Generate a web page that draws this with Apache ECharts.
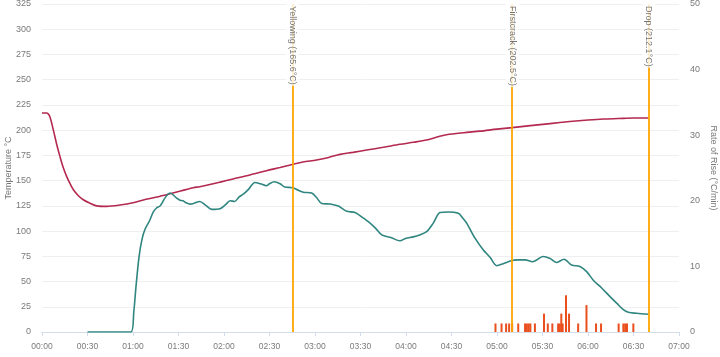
<!DOCTYPE html>
<html>
<head>
<meta charset="utf-8">
<script src="https://cdn.jsdelivr.net/npm/echarts@6/dist/echarts.min.js"></script>
<style>
html,body{margin:0;padding:0;background:#fff;}
#chart{width:720px;height:357px;}
</style>
</head>
<body>
<div id="chart"></div>
<script>
// Time in seconds
const tempTimes = [0,3,5,7.5,10,12,14,16.3,18.5,20.7,24,27.2,31,36,42.7,51.4,60,66.8,75,84.4,92,99.8,104,117.4,126,137,148,157,165,172,181,189,196.5,205,214,225,236,245,253.6,260,266.8,278,288.8,300,310,322,335,348,360,370,380,390,400];
const tempValues = [217,217,214,200,184,173,163,154,147,141,135,131,128,125,124.5,125.8,128,130.8,133.5,137,140,143,144,148.5,151.6,155.5,159.8,163,166,168.5,170.4,173,176,178,180.3,183,186,188,190.2,193,195.5,197.5,199,201,202.5,204.5,206.5,208.5,210,211,211.5,212,212.1];

const rorTimes = [30,45,58.7,60.5,62,64,66,68,71,73.4,75.5,77.8,79.5,81,83,84.4,86.5,88.8,91,93,95,97.6,100,104,108,111.9,117.4,121,124,127,130,132.7,136,140.4,144,148,150,153,157,160,165.3,169,172.3,177.8,181,184.4,190,195.4,198,200.9,206.4,211,216.3,220,224,230,236,240,244.8,249,253.6,258,262.4,267.9,274.5,277,280,285.5,291,295.4,299.8,304,309.7,314,318.5,323.5,330.5,335,339.4,344.2,349.2,354.7,359.1,363.5,369,374.5,378.9,383.3,386.6,392,400];
const rorValues = [0,0,0,3,7,11.5,14.2,15.7,17,18.3,18.9,19.2,19.8,20.4,21,21.2,20.9,20.4,20.1,20,19.7,19.5,19.6,19.9,19.3,18.7,18.8,19.4,20,19.9,20.6,21,21.7,22.8,22.6,22.3,22.6,22.9,22.6,22.1,22,21.6,21.3,21.2,20.5,19.6,19.5,19.2,18.8,18.4,18.2,17.5,16.6,15.8,14.8,14.4,13.9,14.3,14.5,14.8,15.3,16.6,18.2,18.3,18.1,17.5,16.6,14.3,12.5,11.4,10.1,10.4,10.9,11,11,10.7,11.5,11.2,10.6,11.1,10.2,10,9.2,7.9,6.7,5.4,4.4,3.4,3.0,2.85,2.7];

const barTimes = [299,303,306,308,310,314,318.5,319.7,320.9,322,325,331,333.5,336.5,340.3,341.4,342.4,343.3,345.5,347.5,353.5,359,365.3,368.6,380.2,383.3,384.5,385.7,389.9];
const barValues = [1.3,1.3,1.3,1.3,1.3,1.3,1.3,1.3,1.3,1.3,1.3,2.8,1.3,1.3,1.3,1.3,2.8,1.3,5.6,2.8,1.3,4.1,1.3,1.3,1.3,1.3,1.3,1.3,1.3];

const eventNames = ['Yellowing','Firstcrack','Drop'];
const eventTimes = [165,310,400];
const eventTemps = ['165.6','202.5','212.1'];

const xTickInterval = 30;
const xMax = 420;
const tempMax = 325, tempInterval = 25;
const rorMax = 50, rorInterval = 10;

function fmtTime(v){
  const m = Math.floor(v/60), s = Math.round(v%60);
  return String(m).padStart(2,'0') + ':' + String(s).padStart(2,'0');
}
const zip = (a,b) => a.map((t,i)=>[t,b[i]]);

const FONT = 'Liberation Sans, Arial, sans-serif';
const chart = echarts.init(document.getElementById('chart'), null, {renderer:'canvas'});
chart.setOption({
  animation:false,
  textStyle:{fontFamily:FONT},
  grid:{left:42,right:41,top:4,bottom:25,containLabel:false,outerBoundsMode:'none'},
  xAxis:{
    type:'value', min:0, max:xMax, interval:xTickInterval,
    axisLine:{show:true,lineStyle:{color:'#d3dcea',width:1}},
    axisTick:{show:true,length:4,lineStyle:{color:'#d3dcea'}},
    splitLine:{show:false},
    axisLabel:{formatter:fmtTime,color:'#7a7a7a',fontSize:8.5,margin:10,fontFamily:FONT}
  },
  yAxis:[{
    type:'value', min:0, max:tempMax, interval:tempInterval,
    name:'Temperature °C', nameLocation:'middle', nameGap:29, nameMoveOverlap:false,
    nameTextStyle:{color:'#777',fontSize:9,fontFamily:FONT},
    axisLine:{show:false}, axisTick:{show:false},
    splitLine:{show:true,lineStyle:{color:'#efefef',width:1}},
    axisLabel:{color:'#7a7a7a',fontSize:9,margin:11,fontFamily:FONT}
  },{
    type:'value', min:0, max:rorMax, interval:rorInterval, position:'right',
    name:'Rate of Rise (°C/min)', nameLocation:'middle', nameGap:30, nameRotate:-90, nameMoveOverlap:false,
    nameTextStyle:{color:'#777',fontSize:9,fontFamily:FONT},
    axisLine:{show:false}, axisTick:{show:false},
    splitLine:{show:false},
    axisLabel:{color:'#7a7a7a',fontSize:9,margin:11,fontFamily:FONT}
  }],
  series:[{
    name:'Temperature', type:'line', yAxisIndex:0, smooth:0.3, symbol:'none',
    lineStyle:{color:'#b3294f',width:1.6}, itemStyle:{color:'#b3294f'},
    data:zip(tempTimes,tempValues), z:3
  },{
    name:'RoR', type:'line', yAxisIndex:1, smooth:0.3, symbol:'none',
    lineStyle:{color:'#2f857f',width:1.6}, itemStyle:{color:'#2f857f'},
    data:zip(rorTimes,rorValues), z:3
  },{
    name:'Events', type:'bar', yAxisIndex:1, barWidth:2, barGap:'-100%',
    itemStyle:{color:'#ea4f1e'},
    data:zip(barTimes,barValues), z:2
  },{
    name:'Markers', type:'line', yAxisIndex:0, data:[], symbol:'none', z:4,
    markLine:{
      silent:true, symbol:['none','none'],
      label:{show:false},
      lineStyle:{color:'#ffa500',width:1.8,type:'solid'},
      data:eventTimes.map(t=>({xAxis:t}))
    }
  },{
    name:'MarkerLabels', type:'scatter', yAxisIndex:0, symbolSize:0, z:10,
    data:eventTimes.map((t,i)=>({
      value:[t,tempMax],
      label:{
        show:true, formatter:eventNames[i]+' ('+eventTemps[i]+'°C)',
        position:[0,0], align:'left', verticalAlign:'middle', rotate:-90,
        color:'#555', fontSize:9, fontFamily:FONT,
        backgroundColor:'#fff', padding:[2,1,2,2]
      }
    }))
  }]
});
</script>
</body>
</html>
